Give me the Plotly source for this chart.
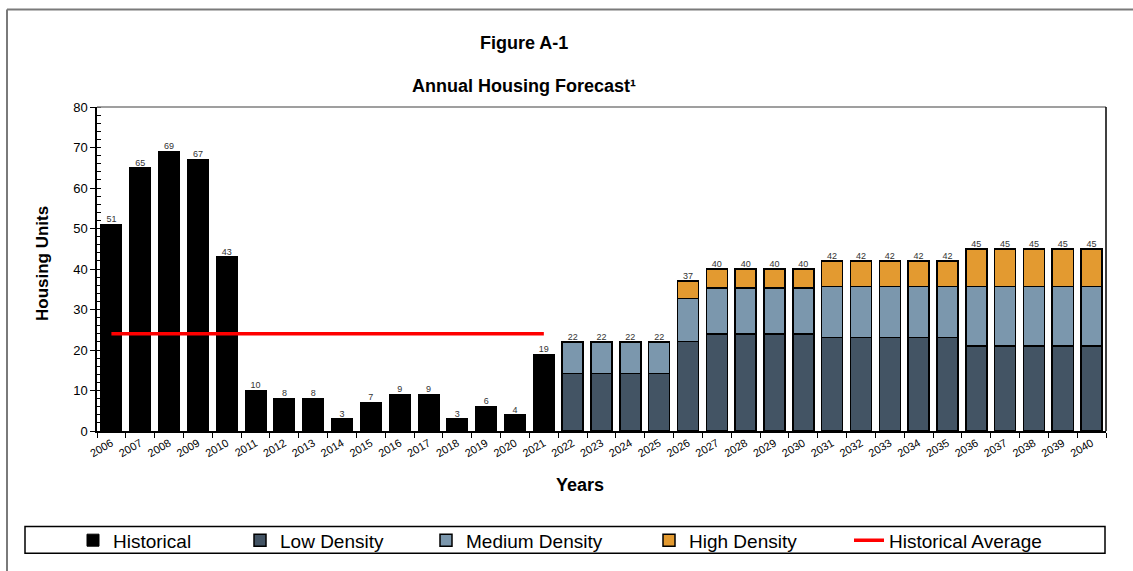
import plotly.graph_objects as go

# ---------------- data ----------------
hist_years = [str(y) for y in range(2006, 2022)]
hist_values = [51, 65, 69, 67, 43, 10, 8, 8, 3, 7, 9, 9, 3, 6, 4, 19]

fc_years = [str(y) for y in range(2022, 2041)]
low_density = [14.2, 14.2, 14.2, 14.2, 22.1, 24.0, 24.0, 24.0, 24.0,
               23.1, 23.1, 23.1, 23.1, 23.1, 21.0, 21.0, 21.0, 21.0, 21.0]
medium_density = [7.8, 7.8, 7.8, 7.8, 10.6, 11.3, 11.3, 11.3, 11.3,
                  12.6, 12.6, 12.6, 12.6, 12.6, 14.7, 14.7, 14.7, 14.7, 14.7]
high_density = [0, 0, 0, 0, 4.3, 4.7, 4.7, 4.7, 4.7,
                6.3, 6.3, 6.3, 6.3, 6.3, 9.3, 9.3, 9.3, 9.3, 9.3]
fc_totals = [22, 22, 22, 22, 37, 40, 40, 40, 40, 42, 42, 42, 42, 42, 45, 45, 45, 45, 45]

hist_average = [24] * len(hist_years)

all_years = hist_years + fc_years
y_ticks = [0, 10, 20, 30, 40, 50, 60, 70, 80]

# ---------------- layout geometry ----------------
W, H = 1133, 571
ML, MR, MT, MB = 97, 27, 107, 138
PW, PH = W - ML - MR, H - MT - MB


def px_x(px):
    return (px - ML) / PW


def px_y(py):
    return (H - MB - py) / PH


FONT = "Arial, Liberation Sans, Helvetica, sans-serif"

C_HIST = "#000000"
C_LOW = "#435464"
C_MED = "#7b97ad"
C_HIGH = "#e39a30"
C_AVG = "#ff0000"

fig = go.Figure()

fig.add_trace(go.Bar(
    x=hist_years, y=hist_values, name="Historical",
    marker=dict(color=C_HIST, line=dict(color="#000000", width=1)),
    legendwidth=122,
))
fig.add_trace(go.Bar(
    x=fc_years, y=low_density, name="Low Density",
    marker=dict(color=C_LOW, line=dict(color="#000000", width=1.5)),
    legendwidth=141,
))
fig.add_trace(go.Bar(
    x=fc_years, y=medium_density, name="Medium Density",
    marker=dict(color=C_MED, line=dict(color="#000000", width=1.5)),
    legendwidth=178,
))
fig.add_trace(go.Bar(
    x=fc_years, y=high_density, name="High Density",
    marker=dict(color=C_HIGH, line=dict(color="#000000", width=1.5)),
    legendwidth=155,
))
fig.add_trace(go.Scatter(
    x=hist_years, y=hist_average, name="Historical Average",
    mode="lines", line=dict(color=C_AVG, width=3.5),
    legendwidth=160,
))

# data labels
fig.add_trace(go.Scatter(
    x=hist_years + fc_years,
    y=hist_values + fc_totals,
    text=[str(v) for v in hist_values + fc_totals],
    mode="text", textposition="top center",
    textfont=dict(family=FONT, size=9, color="#333333"),
    showlegend=False, hoverinfo="skip", cliponaxis=False,
))

shapes = [
    # top frame line of plot (gray)
    dict(type="line", xref="paper", yref="paper", x0=0, x1=1, y0=1, y1=1,
         line=dict(color="#7f7f7f", width=1.5)),
    # outer figure frame (top + left, gray)
    dict(type="line", xref="paper", yref="paper", x0=px_x(7), x1=px_x(W + 5),
         y0=px_y(9), y1=px_y(9), line=dict(color="#7a7a7a", width=2)),
    dict(type="line", xref="paper", yref="paper", x0=px_x(7), x1=px_x(7),
         y0=px_y(9), y1=px_y(H + 5), line=dict(color="#7a7a7a", width=2)),
    # legend box
    dict(type="rect", xref="paper", yref="paper", x0=px_x(25), x1=px_x(1105),
         y0=px_y(556), y1=px_y(529), line=dict(color="#000000", width=1.5)),
    # right frame line of plot
    dict(type="line", xref="paper", yref="paper", x0=1, x1=1, y0=0, y1=1,
         line=dict(color="#000000", width=1.5)),
]

annotations = [
    dict(text="<b>Figure A-1</b>", xref="paper", yref="paper",
         x=px_x(524), y=px_y(43), showarrow=False,
         font=dict(family=FONT, size=18, color="#000000"),
         xanchor="center", yanchor="middle"),
    dict(text="<b>Annual Housing Forecast¹</b>", xref="paper", yref="paper",
         x=px_x(524), y=px_y(86), showarrow=False,
         font=dict(family=FONT, size=18, color="#000000"),
         xanchor="center", yanchor="middle"),
    dict(text="<b>Years</b>", xref="paper", yref="paper",
         x=px_x(580), y=px_y(487), showarrow=False,
         font=dict(family=FONT, size=18, color="#000000"),
         xanchor="center", yanchor="middle"),
    dict(text="<b>Housing Units</b>", xref="paper", yref="paper",
         x=px_x(42), y=px_y(265), showarrow=False, textangle=-90,
         font=dict(family=FONT, size=17, color="#000000"),
         xanchor="center", yanchor="middle"),
]

fig.update_layout(
    width=W, height=H,
    margin=dict(l=ML, r=MR, t=MT, b=MB, pad=0),
    paper_bgcolor="#ffffff", plot_bgcolor="#ffffff",
    barmode="stack", bargap=0.27,
    font=dict(family=FONT, color="#000000"),
    showlegend=True,
    legend=dict(
        orientation="h", x=px_x(73), y=px_y(543),
        xanchor="left", yanchor="middle",
        font=dict(family=FONT, size=19, color="#000000"),
        bgcolor="rgba(0,0,0,0)", borderwidth=0,
        itemwidth=30, traceorder="normal",
    ),
    shapes=shapes,
    annotations=annotations,
)

fig.update_xaxes(
    type="category", categoryorder="array", categoryarray=all_years,
    range=[-0.5, len(all_years) - 0.5], autorange=False,
    tickangle=-30, tickfont=dict(family=FONT, size=11, color="#000000"),
    showline=True, linecolor="#000000", linewidth=1.5,
    ticks="outside", ticklen=5, tickcolor="#000000", tickson="boundaries",
    showgrid=False, zeroline=False,
)
fig.update_yaxes(
    range=[0, 80], autorange=False, tickvals=y_ticks,
    tickfont=dict(family=FONT, size=13, color="#000000"),
    showline=True, linecolor="#000000", linewidth=1.5, mirror=False,
    ticks="outside", ticklen=5, tickcolor="#000000",
    minor=dict(ticks="inside", dtick=2, ticklen=4, tickcolor="#000000", showgrid=False),
    showgrid=False, zeroline=False,
)

fig.write_html("out.html")
